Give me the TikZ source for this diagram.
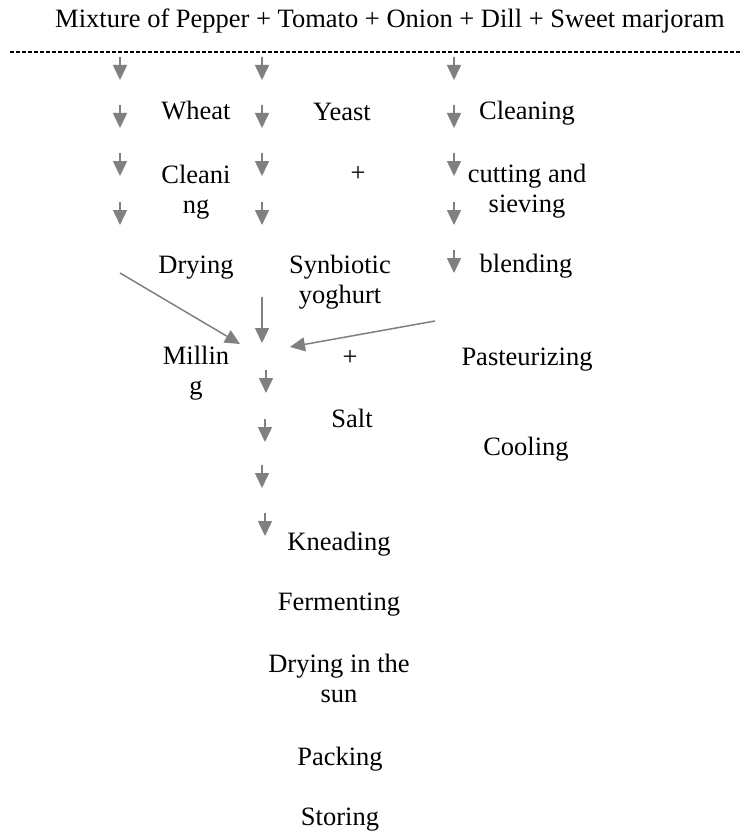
\documentclass[tikz,border=0pt]{standalone}
\usepackage{fontspec}
\setmainfont{Liberation Serif}
\usetikzlibrary{arrows.meta}

\definecolor{arrowgray}{RGB}{128,128,128}

\tikzset{
  stage/.style={anchor=base, align=center, inner sep=0pt},
  flow/.style={draw=arrowgray, line width=1.5pt, -{Triangle[width=14pt,length=15pt]}}
}

\begin{document}
\begin{tikzpicture}[x=1pt, y=-1pt, every node/.append style={font=\fontsize{26.5}{30}\selectfont}]
\useasboundingbox (0,0) rectangle (742,832);

% heading
\node[stage] (mix) at (390,28) {Mixture of Pepper + Tomato + Onion + Dill + Sweet marjoram};
\draw[dash pattern=on 4pt off 2pt, line width=1.2pt] (10,52) -- (742,52);

% wheat (multi-line nodes sit on their last line)
\node[stage] (wheat)  at (196,120) {Wheat};
\node[stage] (cleanW) at (196,213) {Cleani\\ng};
\node[stage] (dryW)   at (196,273) {Drying};
\node[stage] (mill)   at (196,394) {Millin\\g};

% yeast and yoghurt
\node[stage] (yeast)  at (342,121) {Yeast};
\node[stage] (plusA)  at (358,181) {+};
\node[stage] (yog)    at (340,303) {Synbiotic\\yoghurt};
\node[stage] (plusB)  at (350,365) {+};
\node[stage] (salt)   at (352,427) {Salt};

% vegetables
\node[stage] (cleanV) at (527,120) {Cleaning};
\node[stage] (cut)    at (527,212) {cutting and\\sieving};
\node[stage] (blend)  at (526,272) {blending};
\node[stage] (past)   at (527,365) {Pasteurizing};
\node[stage] (cool)   at (526,455) {Cooling};

% dough
\node[stage] (knead)  at (339,550) {Kneading};
\node[stage] (ferm)   at (339,610) {Fermenting};
\node[stage] (sun)    at (339,702) {Drying in the\\sun};
\node[stage] (pack)   at (340,765) {Packing};
\node[stage] (store)  at (340,825) {Storing};

% small arrows
\foreach \y [count=\i] in {57,105,153,202} {
  \coordinate (w\i) at (120,\y);
  \coordinate (y\i) at (262,\y);
  \draw[flow] (w\i) -- ++(0,23);
  \draw[flow] (y\i) -- ++(0,23);
}
\foreach \y [count=\i] in {57,105,153,202,250} {
  \coordinate (v\i) at (454,\y);
  \draw[flow] (v\i) -- ++(0,23);
}
\foreach \x/\y [count=\i] in {266/370, 265/419, 262/465, 265/513} {
  \coordinate (d\i) at (\x,\y);
  \draw[flow] (d\i) -- ++(0,23);
}

% merging
\coordinate (fromWheat) at (120,273);
\coordinate (toMillL)   at (240,344);
\coordinate (fromYog)   at (262,297);
\coordinate (toMillC)   at (262,343);
\coordinate (fromVeg)   at (435,321);
\coordinate (toMillR)   at (290,347);
\draw[flow] (fromWheat) -- (toMillL);
\draw[flow] (fromYog) -- (toMillC);
\draw[flow] (fromVeg) -- (toMillR);

\end{tikzpicture}
\end{document}
